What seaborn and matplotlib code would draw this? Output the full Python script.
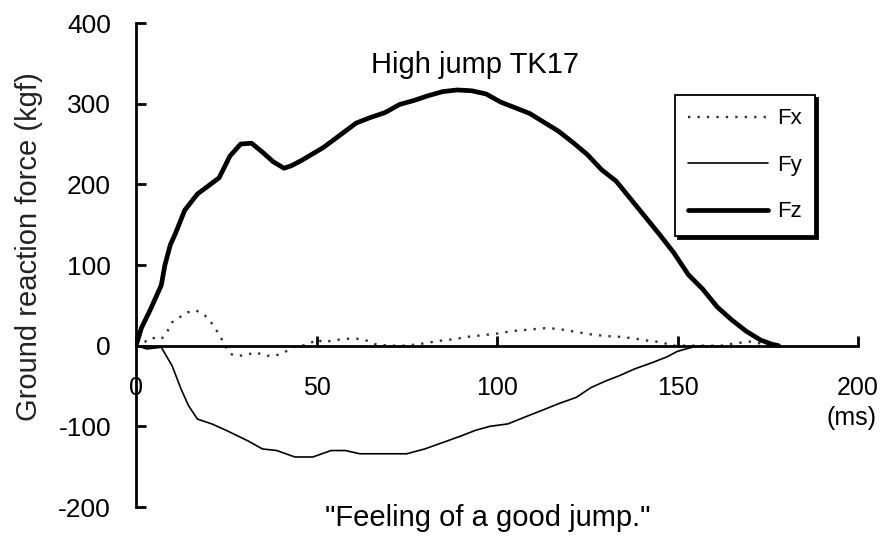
import matplotlib
matplotlib.use('Agg')
import matplotlib.pyplot as plt
import numpy as np
import pandas as pd
import seaborn as sns

# values (time in ms, force in kgf)
fz_t = [0, 1.5, 4, 7, 8, 9.5, 11, 13.5, 17, 20, 23, 26, 29, 32, 35, 38, 41, 43, 46, 49,
        52, 55, 58, 61, 65, 69, 73, 77, 81, 85, 89, 93, 97, 101, 105, 109, 113, 117,
        121, 125, 129, 133, 137, 141, 145, 149, 153, 157, 161, 165, 169, 173, 176, 178]
fz_f = [0, 22, 45, 75, 100, 125, 140, 168, 188, 198, 208, 235, 250, 251, 240, 228, 220,
        223, 230, 238, 246, 256, 266, 276, 283, 289, 299, 304, 310, 315, 317, 316, 312,
        302, 295, 288, 277, 266, 252, 237, 218, 204, 182, 160, 138, 115, 88, 70, 48, 32,
        18, 7, 2, 0]

fy_t = [0, 3, 7, 10, 12.5, 14.5, 17, 21, 25, 31, 35, 39, 44, 49, 54, 58, 62, 68, 75, 80,
        85, 90, 94, 98, 103, 108, 112, 117, 122, 126, 130, 134, 138, 143, 147, 150, 154,
        157]
fy_f = [0, -4, -2, -25, -54, -74, -91, -97, -105, -118, -128, -130, -138, -138, -130,
        -130, -134, -134, -134, -128, -120, -112, -105, -100, -97, -88, -81, -72, -64,
        -52, -44, -37, -29, -21, -14, -7, -2, 0]

fx_t = [0, 2, 4, 7, 8.5, 10, 12, 14, 16.5, 19, 21.5, 23.5, 26, 28, 31, 33, 35.5, 38, 41,
        43, 46, 48, 50, 52, 54, 57, 60, 63, 66, 70, 75, 80, 84, 88, 92, 96, 100, 104, 109,
        114, 118, 122, 126, 130, 134, 138, 142, 146, 148, 155, 162, 166, 170, 174, 177]
fx_f = [0, 3, 10, 8, 16, 29, 35, 41, 44, 38, 25, 10, -10, -13, -11, -8, -12, -13, -9, -2,
        0, 2, 8, 4, 6, 8, 9, 8, 2, 0, 0, 3, 6, 8, 11, 13, 15, 18, 20, 22, 20, 17, 14, 12,
        11, 9, 6, 4, 0, 0, 0, 3, 5, 2, 0]

x_ticks = [0, 50, 100, 150, 200]
y_ticks = [-200, -100, 0, 100, 200, 300, 400]

sns.set_theme(style='white')
plt.rcParams['font.family'] = ['Liberation Sans', 'DejaVu Sans']
plt.rcParams['axes.unicode_minus'] = False
plt.rcParams['text.color'] = 'black'
plt.rcParams['xtick.color'] = 'black'
plt.rcParams['ytick.color'] = 'black'

fig = plt.figure(figsize=(8.81, 5.44), dpi=100)
ax = fig.add_axes([0.1544, 0.068, 0.8195, 0.8897])

df_fx = pd.DataFrame({'t': fx_t, 'f': fx_f})
df_fy = pd.DataFrame({'t': fy_t, 'f': fy_f})
df_fz = pd.DataFrame({'t': fz_t, 'f': fz_f})

sns.lineplot(data=df_fx, x='t', y='f', ax=ax, color='#333333', linewidth=1.7,
             linestyle=(0, (1, 3)), label='Fx')
sns.lineplot(data=df_fy, x='t', y='f', ax=ax, color='black', linewidth=1.2, label='Fy')
sns.lineplot(data=df_fz, x='t', y='f', ax=ax, color='black', linewidth=3.4, label='Fz')

ax.set_xlim(0, 200)
ax.set_ylim(-200, 400)
ax.set_xticks(x_ticks)
ax.set_yticks(y_ticks)
ax.set_xlabel('')
ax.set_ylabel('')

# axes drawn through the origin, excel style
ax.spines['bottom'].set_position(('data', 0))
ax.spines['top'].set_visible(False)
ax.spines['right'].set_visible(False)
for side in ['left', 'bottom']:
    ax.spines[side].set_color('black')
    ax.spines[side].set_linewidth(2)
ax.tick_params(axis='y', left=True, direction='in', length=7, width=2,
               labelsize=19, pad=18, labelcolor='black')
ax.tick_params(axis='x', bottom=True, direction='in', length=7, width=2,
               labelsize=18, pad=22, labelcolor='black')

ax.text(0.47, 0.897, 'High jump TK17', transform=ax.transAxes, ha='center',
        va='baseline', fontsize=21)
ax.annotate('(ms)', xy=(200, 0), xycoords='data', xytext=(-5, -52),
            textcoords='offset points', ha='center', va='center', fontsize=18)

fig.text(29 / 881, 1 - 247 / 544, 'Ground reaction force (kgf)', rotation=90,
         ha='center', va='center', fontsize=21, color='#222222')
fig.text(488 / 881, 1 - 518 / 544, '"Feeling of a good jump."', ha='center',
         va='center', fontsize=21)

leg = ax.legend(loc='upper left', bbox_to_anchor=(675 / 881, 1 - 95 / 544),
                bbox_transform=fig.transFigure, fontsize=16, frameon=True,
                fancybox=False, handlelength=3.6, handletextpad=0.4,
                labelspacing=1.15, borderpad=0.6, borderaxespad=0,
                shadow={'color': 'black', 'alpha': 1})
leg.get_frame().set_edgecolor('black')
leg.get_frame().set_linewidth(1.3)
leg.get_frame().set_facecolor('white')

fig.savefig('out.png', dpi=100)
